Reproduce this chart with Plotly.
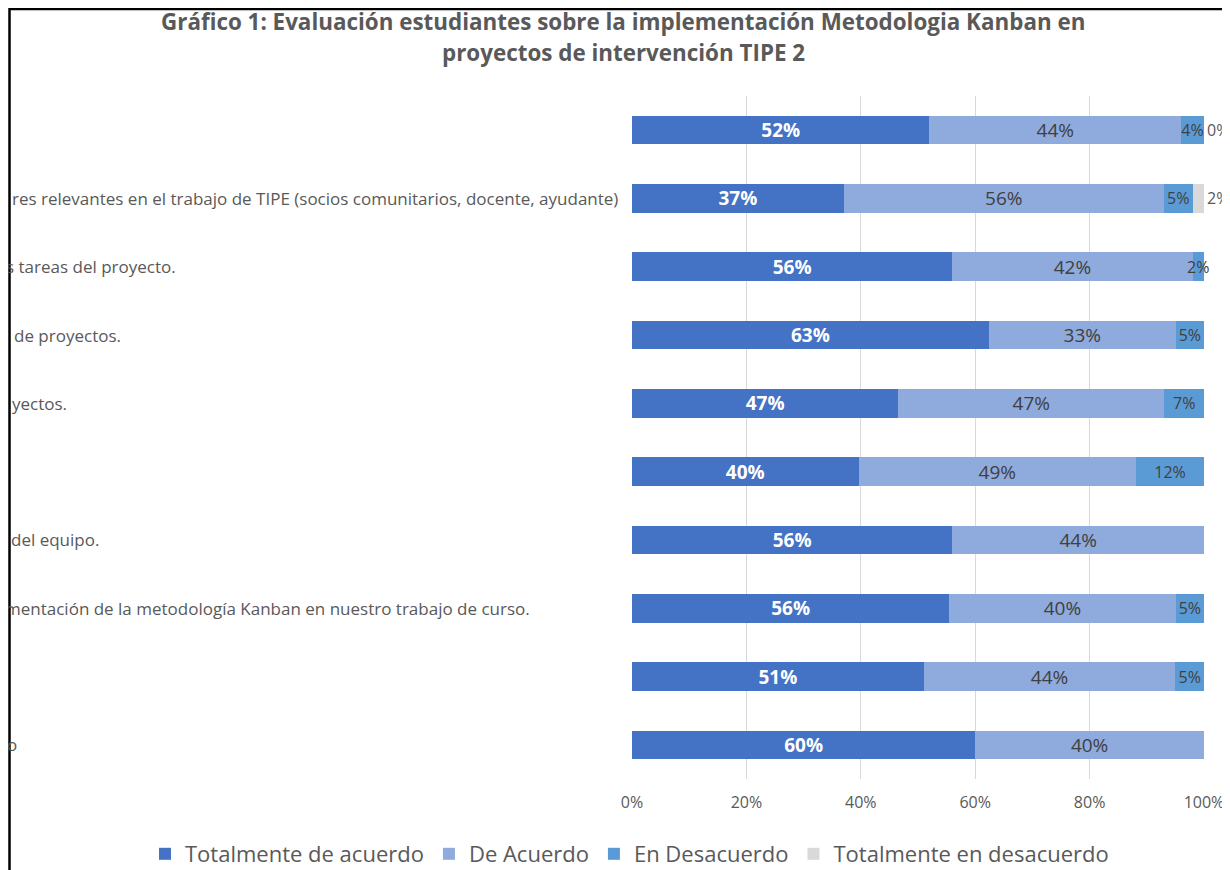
import plotly.graph_objects as go

# ---------------- data ----------------
item_ids = ["P1", "P2", "P3", "P4", "P5", "P6", "P7", "P8", "P9", "P10"]
item_labels = [
    "",
    "res relevantes en el trabajo de TIPE (socios comunitarios, docente, ayudante)",
    "s tareas del proyecto.",
    "de proyectos.",
    "yectos.",
    "",
    "del equipo.",
    "mentación de la metodología Kanban en nuestro trabajo de curso.",
    "",
    "o",
]
series_names = ["Totalmente de acuerdo", "De Acuerdo", "En Desacuerdo", "Totalmente en desacuerdo"]
totalmente_de_acuerdo = [52, 37, 56, 63, 47, 40, 56, 56, 51, 60]
de_acuerdo = [44, 56, 42, 33, 47, 49, 44, 40, 44, 40]
en_desacuerdo = [4, 5, 2, 5, 7, 12, None, 5, 5, None]
totalmente_en_desacuerdo = [0, 2, None, None, None, None, None, None, None, None]
x_tick_values = [0, 20, 40, 60, 80, 100]
x_tick_labels = ["0%", "20%", "40%", "60%", "80%", "100%"]
title_lines = ["Gráfico 1: Evaluación estudiantes sobre la implementación Metodologia Kanban en",
               "proyectos de intervención TIPE 2"]

# ---------------- styles / layout ----------------
OFF = 8                      # page body margin in the browser
W, H = 1230 - OFF, 870 - OFF
ML, MR, MT, MB = 624, 26, 88, 91
FONT = "Open Sans"
colors = ["#4472C4", "#8FAADC", "#5B9BD5", "#D9D9D9"]
text_colors = ["#FFFFFF", "#404040", "#404040", "#595959"]
text_weights = ["bold", "normal", "normal", "normal"]
text_sizes = [19, 19, 16, 16]
text_positions = ["inside", "inside", "inside", "outside"]
label_start_page_px = [10, 10, 4, 12, 10, 10, 9, 3, 10, 5]

series_values = [totalmente_de_acuerdo, de_acuerdo, en_desacuerdo, totalmente_en_desacuerdo]

fig = go.Figure()
for name, vals, col, tcol, tw, ts, tpos in zip(series_names, series_values, colors,
                                                text_colors, text_weights, text_sizes,
                                                text_positions):
    fig.add_trace(go.Bar(
        name=name,
        y=item_ids,
        x=vals,
        orientation="h",
        marker=dict(color=col, line=dict(width=0)),
        text=[f"{v}%" if v is not None else "" for v in vals],
        textposition=tpos,
        textangle=0,
        constraintext="none",
        insidetextanchor="middle",
        textfont=dict(family=FONT, size=ts, color=tcol, weight=tw),
        cliponaxis=False,
        hoverinfo="x+name",
    ))

plot_w = W - ML - MR
plot_h = H - MT - MB


def px_x(page_px):
    return (page_px - OFF - ML) / plot_w


def px_y(page_py):
    return (H - MB - (page_py - OFF)) / plot_h


annotations = []
for cid, lab, sx in zip(item_ids, item_labels, label_start_page_px):
    if not lab:
        continue
    annotations.append(dict(
        x=px_x(sx), xref="paper", xanchor="left",
        y=cid, yref="y", yanchor="middle",
        text=lab, showarrow=False,
        font=dict(family=FONT, size=17, color="#595959"),
    ))

for line, cy in zip(title_lines, [21.5, 52]):
    annotations.append(dict(
        x=px_x(623), xref="paper", xanchor="center",
        y=px_y(cy), yref="paper", yanchor="middle",
        text=line, showarrow=False,
        font=dict(family=FONT, size=22.4, color="#595959", weight="bold"),
    ))

shapes = [
    dict(type="rect", xref="paper", yref="paper",
         x0=px_x(9.5), x1=px_x(1300), y0=px_y(9), y1=px_y(900),
         line=dict(color="#000000", width=2.5), fillcolor="rgba(0,0,0,0)",
         layer="above"),
]

fig.update_layout(
    width=W, height=H,
    margin=dict(l=ML, r=MR, t=MT, b=MB, pad=0, autoexpand=False),
    paper_bgcolor="#FFFFFF", plot_bgcolor="#FFFFFF",
    barmode="stack", barnorm="percent", bargap=0.58,
    font=dict(family=FONT, color="#595959"),
    xaxis=dict(range=[0, 100], tickvals=x_tick_values, ticktext=x_tick_labels,
               showgrid=True, gridcolor="#D9D9D9", gridwidth=1,
               zeroline=False, showline=False, ticks="",
               ticklabelstandoff=12,
               tickfont=dict(family=FONT, size=16, color="#595959")),
    yaxis=dict(type="category", categoryorder="array", categoryarray=item_ids,
               autorange="reversed", showticklabels=False, showgrid=False,
               zeroline=False, showline=False, ticks=""),
    legend=dict(orientation="h", xref="paper", x=px_x(145), xanchor="left",
                yref="paper", y=px_y(833), yanchor="top",
                font=dict(family=FONT, size=22, color="#595959"),
                traceorder="normal", itemwidth=30, bgcolor="rgba(0,0,0,0)"),
    showlegend=True,
    annotations=annotations,
    shapes=shapes,
)

fig.write_html("out.html")
